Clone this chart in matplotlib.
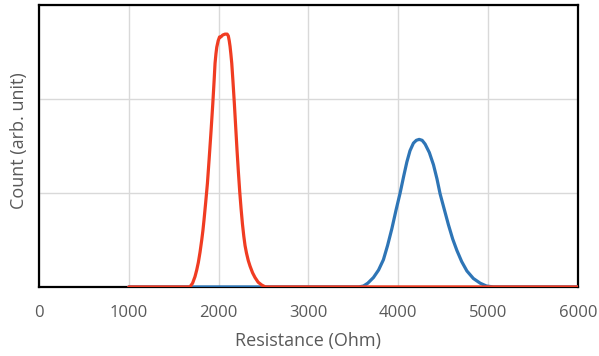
import matplotlib.pyplot as plt

plt.rcParams['font.family'] = ['Open Sans', 'DejaVu Sans']

# red distribution (resistance in Ohm, count in arb. units)
red_x = [1000, 1680, 1710, 1737, 1756, 1774, 1793, 1812, 1825, 1837, 1856, 1875,
         1895, 1915, 1935, 1950, 1960, 1970, 1979, 1995, 2010, 2025, 2045, 2071,
         2095, 2108, 2118, 2127, 2136, 2146, 2160, 2175, 2190, 2205, 2220, 2235,
         2250, 2265, 2280, 2294, 2310, 2330, 2350, 2378, 2405, 2440, 2480, 2520, 6000]
red_y = [0, 0, 0.04, 0.11, 0.18, 0.26, 0.37, 0.50, 0.60, 0.71, 0.90, 1.10,
         1.37, 1.65, 1.95, 2.20, 2.38, 2.48, 2.55, 2.62, 2.66, 2.66, 2.68, 2.69,
         2.69, 2.67, 2.62, 2.56, 2.48, 2.38, 2.18, 1.95, 1.70, 1.45, 1.22, 1.01,
         0.83, 0.67, 0.54, 0.44, 0.36, 0.28, 0.22, 0.15, 0.10, 0.05, 0.02, 0, 0]

# blue distribution
blue_x = [1000, 3560, 3612, 3660, 3723, 3780, 3834, 3880, 3928, 3975, 4020, 4060,
          4095, 4130, 4168, 4200, 4232, 4265, 4298, 4345, 4391, 4430, 4465, 4510,
          4558, 4605, 4651, 4705, 4763, 4835, 4911, 4980, 5059, 6000]
blue_y = [0, 0, 0.01, 0.04, 0.10, 0.18, 0.29, 0.44, 0.62, 0.82, 1.00, 1.18,
          1.33, 1.45, 1.53, 1.56, 1.57, 1.56, 1.52, 1.43, 1.30, 1.15, 0.99, 0.83,
          0.66, 0.51, 0.39, 0.27, 0.17, 0.09, 0.04, 0.01, 0, 0]

xticks = [0, 1000, 2000, 3000, 4000, 5000, 6000]

fig = plt.figure(figsize=(5.99, 3.56), dpi=100)
ax = fig.add_axes([0.065, 0.194, 0.9, 0.792])

ax.plot(blue_x, blue_y, color='#2E75B6', lw=2.3, solid_capstyle='round',
        solid_joinstyle='round', zorder=3)
ax.plot(red_x, red_y, color='#F03C22', lw=2.3, solid_capstyle='round',
        solid_joinstyle='round', zorder=4)

ax.set_xlim(0, 6000)
ax.set_ylim(0, 3)
ax.set_xticks(xticks)
ax.set_yticks([0, 1, 2, 3])
ax.set_yticklabels([])
ax.grid(True, color='#D9D9D9', lw=1)
ax.set_axisbelow(True)
ax.tick_params(length=0, pad=13, labelsize=12, colors='#595959')
for s in ax.spines.values():
    s.set_color('black')
    s.set_linewidth(1.6)

ax.set_xlabel('Resistance (Ohm)', fontsize=13, color='#595959', labelpad=8)
ax.set_ylabel('Count (arb. unit)', fontsize=13, color='#595959')
ax.yaxis.set_label_coords(-0.02, 0.52)

fig.savefig('out.png', dpi=100)
